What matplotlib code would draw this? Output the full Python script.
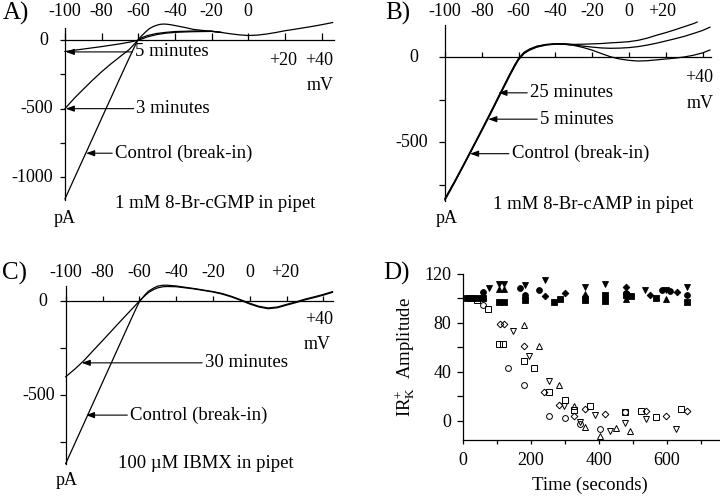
import matplotlib
matplotlib.use('Agg')
import matplotlib.pyplot as plt

plt.rcParams['font.family'] = ['Liberation Serif', 'DejaVu Serif']
plt.rcParams['mathtext.fontset'] = 'custom'
plt.rcParams['mathtext.rm'] = 'Liberation Serif'
plt.rcParams['mathtext.it'] = 'Liberation Serif:italic'

W, H = 720, 497
FS = 13.5
TFS = 13

# ---------------- data ----------------
# Panel A (1 mM 8-Br-cGMP)
a_ctrl_v = [-100, -95, -90, -85, -80, -75, -70, -65, -62, -60, -58, -56, -54, -52, -50, -48, -46, -44, -42, -40,
            -35, -30, -25, -20, -15, -10, -5, 0, 5, 10, 15, 20, 25, 30, 35, 40, 46]
a_ctrl_i = [-1160, -1012, -865, -718, -570, -423, -276, -130, -45, 8, 35, 62, 85, 100, 110, 117, 119, 117, 113, 108,
            95, 80, 72, 66, 58, 48, 40, 35, 38, 46, 57, 70, 80, 91, 102, 114, 130]
a_3min_v = [-100, -95, -90, -85, -80, -75, -70, -65, -62, -60, -58, -55, -50, -45, -40, -35, -30, -25, -20, -15]
a_3min_i = [-500, -425, -358, -292, -230, -173, -120, -68, -25, 3, 20, 35, 50, 58, 64, 66, 68, 68, 67, 58]
a_5min_v = [-100, -95, -90, -85, -80, -75, -70, -65, -60, -55, -50, -45, -40, -35, -30, -25, -20, -15]
a_5min_i = [-82, -73, -64, -55, -46, -36, -26, -14, 0, 25, 42, 52, 58, 61, 63, 64, 65, 58]
a_top_labels = ['-100', '-80', '-60', '-40', '-20', '0']
a_top_pos = [-100, -80, -60, -40, -20, 0]

# Panel B (1 mM 8-Br-cAMP)
b_ctrl_v = [-100, -95, -90, -85, -80, -75, -70, -65, -62, -60, -57, -54, -50, -45, -40, -35, -30, -25, -20, -15,
            -10, -5, 0, 5, 10, 15, 20, 25, 30, 35, 40, 44]
b_ctrl_i = [-840, -742, -640, -537, -433, -328, -220, -113, -52, -15, 22, 42, 60, 72, 77, 76, 70, 58, 42, 22,
            3, -10, -18, -22, -20, -15, -10, -5, 2, 12, 26, 43]
b_5min_v = [-100, -95, -90, -85, -80, -75, -70, -65, -62, -60, -57, -54, -50, -45, -40, -35, -30, -25, -20, -15,
            -10, -5, 0, 5, 10, 15, 20, 25, 30, 35, 40, 44]
b_5min_i = [-835, -738, -636, -533, -428, -322, -214, -107, -46, -10, 26, 46, 63, 74, 79, 78, 72, 66, 60, 55,
            53, 54, 57, 63, 72, 83, 96, 109, 123, 140, 158, 177]
b_25min_v = [-100, -95, -90, -85, -80, -75, -70, -65, -62, -60, -57, -54, -50, -45, -40, -35, -30, -25, -20, -15,
             -10, -5, 0, 5, 10, 15, 20, 25, 30, 35, 37]
b_25min_i = [-830, -733, -632, -528, -424, -318, -210, -103, -42, -6, 30, 49, 66, 76, 80, 80, 76, 77, 79, 81,
             85, 88, 92, 100, 113, 130, 145, 162, 180, 198, 207]
b_top_labels = ['-100', '-80', '-60', '-40', '-20', '0', '+20']
b_top_pos = [-100, -80, -60, -40, -20, 0, 18]

# Panel C (100 uM IBMX)
c_v = [-100, -95, -90, -85, -80, -75, -70, -65, -62, -60, -57, -55, -52, -50, -47, -45, -40, -35, -30, -25,
       -20, -15, -10, -5, 0, 5, 10, 15, 20, 25, 30, 35, 40, 45]
c_ctrl_i = [-865, -757, -649, -541, -433, -325, -217, -109, -45, -5, 32, 52, 70, 79, 84, 84, 80, 73, 66, 58,
            50, 40, 25, 7, -12, -28, -37, -32, -18, -5, 10, 22, 35, 50]
c_30min_i = [-403, -362, -316, -263, -211, -158, -105, -53, -22, 0, 28, 45, 62, 70, 76, 77, 76, 70, 64, 56,
             48, 37, 22, 4, -16, -32, -41, -36, -22, -9, 6, 18, 31, 46]
c_top_labels = ['-100', '-80', '-60', '-40', '-20', '0', '+20']
c_top_pos = [-100, -80, -60, -40, -20, 0, 19]

# Panel D (IRK+ amplitude vs time)
d_fcirc_t = [15, 57, 166, 181, 222, 360, 480, 585, 609, 661]
d_fcirc_y = [100, 105, 108.6, 103, 107.2, 101, 104.8, 107, 106, 103]
d_fsq_t = [10, 25, 40, 57, 105, 120, 181, 269, 284, 360, 419, 419, 480, 496, 567, 661]
d_fsq_y = [100, 100, 100, 100, 97.5, 97.5, 99, 97, 99.8, 98.5, 102.6, 98, 102.6, 102, 100.5, 97.5]
d_fup_t = [57, 105, 120, 181, 360, 480, 599]
d_fup_y = [102, 107.5, 107.5, 103, 104, 99.3, 99.5]
d_fdn_t = [77, 105, 120, 181, 240, 360, 419, 537, 599, 661]
d_fdn_y = [108.8, 111.5, 111.5, 110.8, 115, 109, 112.2, 107, 107, 109.6]
d_fdia_t = [240, 300, 480, 552, 629]
d_fdia_y = [101.8, 104.8, 109.4, 102.5, 105.6]

d_ocirc_t = [25, 59, 133, 178, 254, 299, 343, 402, 478]
d_ocirc_y = [100, 94.7, 42.9, 29.2, 3.8, 2, -3, -6.5, 6.9]
d_osq_t = [40, 74, 104, 118, 178, 209, 254, 299, 328, 375, 478, 523, 569, 643]
d_osq_y = [99, 91.5, 62.5, 62.5, 49, 42.9, 23.2, 17, 8.8, 11.8, 6.9, 8.2, 3.3, 9.3]
d_oup_t = [178, 224, 283, 328, 358, 404, 449, 493]
d_oup_y = [78.3, 61.4, 29.2, 12, -4.9, -12.5, -5.7, -8.4]
d_odn_t = [148, 194, 252, 298, 343, 388, 434, 478, 539, 628]
d_odn_y = [73.6, 53, 32.7, 12, -0.8, 4.3, -8.2, -1.6, 1.4, -7]
d_odia_t = [107, 120, 178, 239, 283, 328, 358, 419, 538, 599, 659]
d_odia_y = [78.9, 78.9, 61, 23.7, 12.6, 3.8, 9.4, 5.2, 8.2, 3.8, 8.2]
d_xticklabels = ['0', '', '200', '', '400', '', '600', '']
d_yticklabels = ['0', '', '40', '', '80', '', '120']

# ---------------- figure ----------------
fig = plt.figure(figsize=(W / 100, H / 100), dpi=100)


def add_panel(xa, pxa, xb, pxb, ya, pya, yb, pyb, xlim, ylim):
    sx = (pxb - pxa) / (xb - xa)
    sy = (pyb - pya) / (yb - ya)
    l = pxa + (xlim[0] - xa) * sx
    r = pxa + (xlim[1] - xa) * sx
    t = pya + (ylim[1] - ya) * sy
    b = pya + (ylim[0] - ya) * sy
    ax = fig.add_axes([l / W, 1 - b / H, (r - l) / W, (b - t) / H])
    ax.set_xlim(*xlim)
    ax.set_ylim(*ylim)
    ax.patch.set_alpha(0)
    return ax


def iv_style(ax, xticks, yticks, xlen, ylen):
    for s in ['top', 'right']:
        ax.spines[s].set_visible(False)
    ax.spines['bottom'].set_position(('data', 0))
    for s in ['bottom', 'left']:
        ax.spines[s].set_linewidth(0.9)
    ax.set_xticks(xticks)
    ax.set_yticks(yticks)
    ax.tick_params(axis='x', direction='in', length=xlen, width=0.9, labelbottom=False)
    ax.tick_params(axis='y', direction='out', length=ylen, width=0.9, labelleft=False)


def arrow_label(ax, text, tip, text_x):
    ax.annotate(text, xy=tip, xytext=(text_x, tip[1]), ha='left', va='center', fontsize=FS,
                arrowprops=dict(arrowstyle='-|>,head_length=0.5,head_width=0.18', color='k', lw=0.8,
                                shrinkA=0, shrinkB=0, mutation_scale=10))


LW = 0.9

# ----- Panel A -----
axA = add_panel(-100, 65, 0, 248.3, 0, 40.3, -1000, 177, (-100, 46.5), (-1165, 92))
iv_style(axA, [-100, -80, -60, -40, -20, 0, 20, 40], [0, -250, -500, -750, -1000], 5, 3.5)
for v, i in [(a_ctrl_v, a_ctrl_i), (a_3min_v, a_3min_i), (a_5min_v, a_5min_i)]:
    axA.plot(v, i, color='k', lw=LW, clip_on=False)
for lab, pos in zip(a_top_labels, a_top_pos):
    axA.text(pos, 214, lab, ha='center', va='center', fontsize=TFS)
axA.text(19, -149, '+20', ha='center', va='center', fontsize=TFS)
axA.text(38.5, -149, '+40', ha='center', va='center', fontsize=TFS)
axA.text(46.5, -334, 'mV', ha='right', va='center', fontsize=TFS)
axA.text(-109, 0, '0', ha='right', va='center', fontsize=TFS)
axA.text(-106.4, -500, '-500', ha='right', va='center', fontsize=TFS)
axA.text(-106.4, -1000, '-1000', ha='right', va='center', fontsize=TFS)
axA.text(-100, -1302, 'pA', ha='center', va='center', fontsize=TFS)
arrow_label(axA, '5 minutes', (-99.6, -85), -61.7)
arrow_label(axA, '3 minutes', (-99.6, -500), -61)
arrow_label(axA, 'Control (break-in)', (-88.5, -826), -72.7)
axA.text(-72.7, -1197, '1 mM 8-Br-cGMP in pipet', ha='left', va='center', fontsize=FS)

# ----- Panel B -----
axB = add_panel(-100, 445, 0, 629, 0, 57.3, -500, 142.3, (-100, 44.5), (-845, 190))
iv_style(axB, [-100, -80, -60, -40, -20, 0, 20, 40], [0, -250, -500, -750], 3.3, 4)
for v, i in [(b_ctrl_v, b_ctrl_i), (b_5min_v, b_5min_i), (b_25min_v, b_25min_i)]:
    axB.plot(v, i, color='k', lw=LW, clip_on=False)
for lab, pos in zip(b_top_labels, b_top_pos):
    axB.text(pos, 268, lab, ha='center', va='center', fontsize=TFS)
axB.text(38.3, -118, '+40', ha='center', va='center', fontsize=TFS)
axB.text(38.6, -272, 'mV', ha='center', va='center', fontsize=TFS)
axB.text(-114.5, 0, '0', ha='right', va='center', fontsize=TFS)
axB.text(-109, -500, '-500', ha='right', va='center', fontsize=TFS)
axB.text(-99, -951, 'pA', ha='center', va='center', fontsize=TFS)
arrow_label(axB, '25 minutes', (-71, -209), -53.8)
arrow_label(axB, '5 minutes', (-76.5, -364), -48.4)
arrow_label(axB, 'Control (break-in)', (-86.4, -567), -63.8)
axB.text(-73.7, -867, '1 mM 8-Br-cAMP in pipet', ha='left', va='center', fontsize=FS)

# ----- Panel C -----
axC = add_panel(-100, 65.7, 0, 249.7, 0, 301, -500, 395, (-100, 45.5), (-865, 82))
iv_style(axC, [-100, -80, -60, -40, -20, 0, 20, 40], [0, -250, -500, -750], 3.3, 4)
axC.plot(c_v, c_ctrl_i, color='k', lw=LW, clip_on=False)
axC.plot(c_v, c_30min_i, color='k', lw=LW, clip_on=False)
for lab, pos in zip(c_top_labels, c_top_pos):
    axC.text(pos, 151, lab, ha='center', va='center', fontsize=TFS)
axC.text(37.5, -98, '+40', ha='center', va='center', fontsize=TFS)
axC.text(36.6, -231, 'mV', ha='center', va='center', fontsize=TFS)
axC.text(-110, 0, '0', ha='right', va='center', fontsize=TFS)
axC.text(-105.8, -500, '-500', ha='right', va='center', fontsize=TFS)
axC.text(-99.5, -954, 'pA', ha='center', va='center', fontsize=TFS)
arrow_label(axC, '30 minutes', (-91.3, -329), -24.3)
arrow_label(axC, 'Control (break-in)', (-89, -607), -65)
axC.text(-71.4, -865, '100 \u00b5M IBMX in pipet', ha='left', va='center', fontsize=FS)

# ----- Panel D -----
axD = add_panel(0, 463.3, 600, 666.7, 0, 420.7, 120, 274, (0, 753), (-16, 120))
for s in ['top', 'right']:
    axD.spines[s].set_visible(False)
for s in ['bottom', 'left']:
    axD.spines[s].set_linewidth(0.9)
axD.set_xticks(range(0, 701, 100))
axD.set_xticklabels(d_xticklabels, fontsize=TFS)
axD.set_yticks(range(0, 121, 20))
axD.set_yticklabels(d_yticklabels, fontsize=TFS)
axD.tick_params(axis='x', direction='out', length=3.2, width=0.9, pad=5)
axD.tick_params(axis='y', direction='out', length=4, width=0.9, pad=4.8)

filled = [(d_fcirc_t, d_fcirc_y, 'o', 4.2), (d_fsq_t, d_fsq_y, 's', 3.8), (d_fup_t, d_fup_y, '^', 4.6),
          (d_fdn_t, d_fdn_y, 'v', 4.6), (d_fdia_t, d_fdia_y, 'D', 3.4)]
for t, y, m, ms in filled:
    axD.plot(t, y, ls='none', marker=m, ms=ms, mfc='k', mec='k', mew=0.6, clip_on=False)
opened = [(d_ocirc_t, d_ocirc_y, 'o', 4.2), (d_osq_t, d_osq_y, 's', 3.8), (d_oup_t, d_oup_y, '^', 4.6),
          (d_odn_t, d_odn_y, 'v', 4.6), (d_odia_t, d_odia_y, 'D', 3.4)]
for t, y, m, ms in opened:
    axD.plot(t, y, ls='none', marker=m, ms=ms, mfc='none', mec='k', mew=0.7, clip_on=False)

fig.text(590 / W, 1 - 485 / H, 'Time (seconds)', ha='center', va='center', fontsize=FS)
fig.text(405 / W, 1 - 357 / H, r'$\mathrm{IR}_{\mathrm{K}}^{+}$  Amplitude', ha='center', va='center',
         rotation=90, fontsize=FS)

# panel letters
for lab, x, y in [('A)', 3, 13), ('B)', 385, 13), ('C)', 2, 273), ('D)', 383, 273)]:
    fig.text(x / W, 1 - y / H, lab, ha='left', va='center', fontsize=18)

fig.savefig('out.png', dpi=100)
